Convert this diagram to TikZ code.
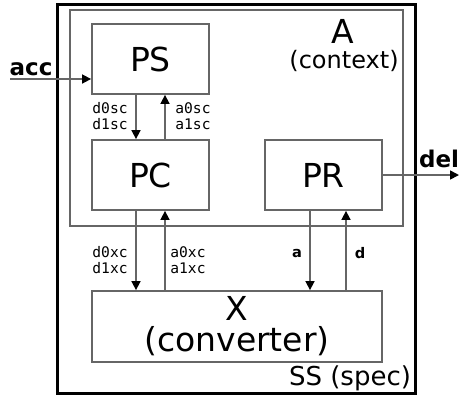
\documentclass[tikz,border=0pt]{standalone}
\usepackage{fontspec}
\setmainfont{DejaVu Sans}
\setmonofont{DejaVu Sans Mono}
\usetikzlibrary{arrows.meta}
\tikzset{
  blk/.style={draw=black!60, line width=0.9pt, inner sep=0pt},
  sig/.style={draw=black!60, line width=0.8pt, -{Triangle[length=4.5pt,width=4.5pt,black]}},
  lbl/.style={font=\ttfamily\fontsize{7.3}{8}\selectfont, align=left, inner sep=0pt},
  big/.style={font=\fontsize{16.5}{15.5}\selectfont},
}
\begin{document}
\begin{tikzpicture}[x=0.5pt,y=-0.5pt]
\useasboundingbox (0,0) rectangle (459,397);

\node[draw=black, line width=1.5pt, minimum width=179pt, minimum height=194.5pt] (SS) at (236,198.5) {};
\node[blk, minimum width=166.5pt, minimum height=108pt] (A) at (236.5,118) {};

\node[blk, big, minimum width=58.5pt, minimum height=35pt] (PS) at (150.5,59) {PS};
\node[blk, big, minimum width=58.5pt, minimum height=35pt] (PC) at (150.5,175) {PC};
\node[blk, big, minimum width=58.5pt, minimum height=35pt] (PR) at (323.5,175) {PR};
\node[blk, big, align=center, minimum width=145pt, minimum height=35.5pt] (X) at (237,326.5) {X\\(converter)};

\node[big, inner sep=0pt] (Alab) at (343,31) {A};
\node[font=\fontsize{12}{14}\selectfont, inner sep=0pt] (ctx) at (344,61) {(context)};
\node[font=\fontsize{13}{15}\selectfont, inner sep=0pt] (spec) at (350,378) {SS (spec)};

\coordinate (sd) at ([xshift=-7.25pt]PS.south);
\coordinate (su) at ([xshift=7.25pt]PS.south);
\draw[sig] (sd) -- (sd |- PC.north);
\draw[sig] (su |- PC.north) -- (su);
\node[lbl, anchor=east] (dsc) at (128,116) {d0sc\\d1sc};
\node[lbl, anchor=west] (asc) at (175,116) {a0sc\\a1sc};

\coordinate (cd) at ([xshift=-7.25pt]PC.south);
\coordinate (cu) at ([xshift=7.25pt]PC.south);
\draw[sig] (cd) -- (cd |- X.north);
\draw[sig] (cu |- X.north) -- (cu);
\node[lbl, anchor=east] (dxc) at (128,260) {d0xc\\d1xc};
\node[lbl, anchor=west] (axc) at (170,260) {a0xc\\a1xc};

\coordinate (rd) at ([xshift=-6.75pt]PR.south);
\coordinate (ru) at ([xshift=11.25pt]PR.south);
\draw[sig] (rd) -- (rd |- X.north);
\draw[sig] (ru |- X.north) -- (ru);
\node[lbl, font=\bfseries\fontsize{7.3}{8}\selectfont] (la) at (297,254) {a};
\node[lbl, font=\bfseries\fontsize{7.3}{8}\selectfont] (ld) at (360,253) {d};

\coordinate (accin) at (10,79);
\draw[sig] (accin) -- (accin -| PS.west);
\node[font=\bfseries\fontsize{11.5}{13}\selectfont, inner sep=0pt] (acc) at (31,69) {acc};

\coordinate (delout) at (459,175);
\draw[sig] (PR.east) -- (delout);
\node[font=\bfseries\fontsize{11.5}{13}\selectfont, inner sep=0pt] (del) at (439,159) {del};
\end{tikzpicture}
\end{document}
